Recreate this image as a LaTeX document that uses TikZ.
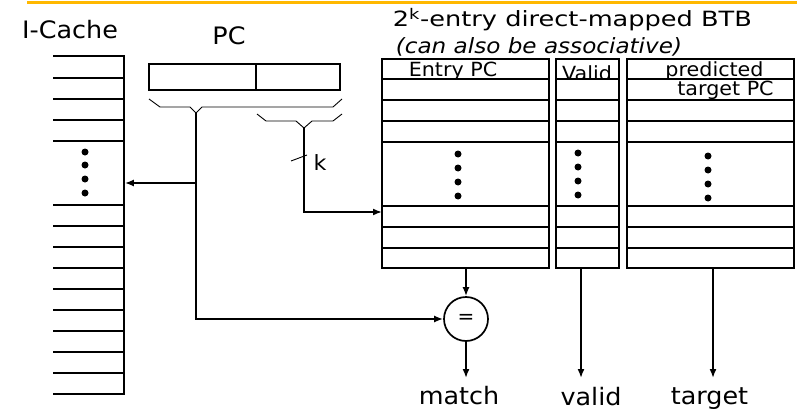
\documentclass[tikz,border=0pt]{standalone}
\usepackage{fontspec}
\setmainfont{DejaVu Sans}
\usetikzlibrary{arrows.meta}
\definecolor{barorange}{RGB}{255,184,0}
\newcommand\sx[2]{\scalebox{#1}[1]{#2}}
\begin{document}
\begin{tikzpicture}[x=1pt,y=-1pt, line width=1.7pt,
  box/.style={draw, line width=1.8pt, inner sep=0pt, outer sep=0pt},
  rowline/.style={line width=1.7pt},
  bracepath/.style={line width=0.9pt},
  arr/.style={line width=1.7pt, -{Latex[length=9pt,width=7pt]}},
  lbl/.style={inner sep=0pt, anchor=base, font=\fontsize{24}{24}\selectfont},
  hdr/.style={inner sep=0pt, anchor=base, font=\fontsize{19.5}{20}\selectfont},
  dotn/.style={fill, circle, inner sep=0pt, minimum size=7pt}]
\useasboundingbox (0,0) rectangle (797,412);
\draw[barorange, line width=2.5pt] (27,2.5) -- (797,2.5);

% labels
\node[lbl] (iclbl) at (70,39) {\sx{1.06}{I-Cache}};
\node[lbl] (pclbl) at (229,45) {\sx{1.06}{PC}};
\node[inner sep=0pt, anchor=base west, font=\fontsize{21}{21}\selectfont] (title) at (392,27) {\sx{1.22}{2\textsuperscript{k}-entry direct-mapped BTB}};
\node[inner sep=0pt, anchor=base west, font=\fontsize{21}{21}\selectfont\itshape] (assoc) at (395,53) {\sx{1.1}{(can also be associative)}};

% I-Cache
\node[inner sep=0pt, minimum width=71pt, minimum height=338pt] (icache) at (88.5,225) {};
\draw[rowline] (53,56) -- (124,56) -- (124,394) -- (53,394);
\foreach \y in {78,99,120,141,205,226,247,268,289,310,331,352,373}
  \draw[rowline] (53,\y) -- (124,\y);
\foreach \y in {152,165,179,193} \node[dotn] at (85,\y) {};

% PC register
\node[box, minimum width=191pt, minimum height=26pt] (pc) at (244.5,77) {};
\coordinate (pcdiv) at (256,77);
\draw[rowline] (pc.north -| pcdiv) -- (pc.south -| pcdiv);

% braces
\coordinate (b1) at (196,113);
\coordinate (b2) at (304,128);
\draw[bracepath] (149,99) -- (160,107) -- (190,107) -- (b1) -- (202,107) -- (333,107) -- (342,99);
\draw[bracepath] (257,114) -- (266,121) -- (296,121) -- (b2) -- (312,121) -- (333,121) -- (342,114);
\draw[bracepath] (291,161) -- (307,155);
\node[inner sep=0pt, anchor=base, font=\fontsize{21}{21}\selectfont] (klbl) at (320,170) {\sx{1.06}{k}};

% BTB tables
\node[box, minimum width=167pt, minimum height=209pt] (ep) at (465.5,163.5) {};
\node[box, minimum width=63pt, minimum height=209pt] (vt) at (587.5,163.5) {};
\node[box, minimum width=167pt, minimum height=209pt] (tp) at (710.5,163.5) {};
\foreach \y in {79,100,121,142,206,227,248} {
  \draw[rowline] (382,\y) -- (549,\y);
  \draw[rowline] (556,\y) -- (619,\y);
  \draw[rowline] (627,\y) -- (794,\y);
}
\foreach \y in {154,168,182,196} \node[dotn] at (458,\y) {};
\foreach \y in {153,167,181,195} \node[dotn] at (578,\y) {};
\foreach \y in {156,170,184,198} \node[dotn] at (708,\y) {};

\begin{scope}
  \clip (382,59) rectangle (549,79);
  \node[hdr] (ephdr) at (453,76) {\sx{1.06}{Entry PC}};
\end{scope}
\begin{scope}
  \clip (556,59) rectangle (619,79);
  \node[hdr] (vhdr) at (587,81) {\sx{1.06}{Valid}};
\end{scope}
\begin{scope}
  \clip (627,59) rectangle (794,79);
  \node[hdr] (phdr) at (714.5,77) {\sx{1.06}{\raisebox{0pt}[\height][0pt]{predicted}}};
\end{scope}
\node[hdr] (thdr) at (725.5,95) {\sx{1.06}{target PC}};

% comparator
\node[draw, circle, line width=1.7pt, minimum size=44pt, inner sep=0pt] (cmp) at (466,319) {\fontsize{20}{20}\selectfont =};

% connectors
\coordinate (j1) at (196,183);
\coordinate (epin) at (382,212);
\coordinate (mo) at (466,378);
\coordinate (vo) at (581,378);
\coordinate (to) at (713,378);
\draw[arr] (b1) |- (cmp.west);
\draw[arr] (j1) -- (icache.east |- j1);
\draw[arr] (b2) |- (epin);
\draw[arr] (ep.south -| cmp.north) -- (cmp.north);
\draw[arr] (cmp.south) -- (mo);
\draw[arr] (vt.south -| vo) -- (vo);
\draw[arr] (tp.south -| to) -- (to);

% outputs
\node[lbl] (mlbl) at (459,404) {\sx{1.06}{match}};
\node[lbl] (vlbl) at (591,405) {\sx{1.06}{valid}};
\node[lbl] (tlbl) at (709.5,404) {\sx{1.06}{target}};
\end{tikzpicture}
\end{document}
